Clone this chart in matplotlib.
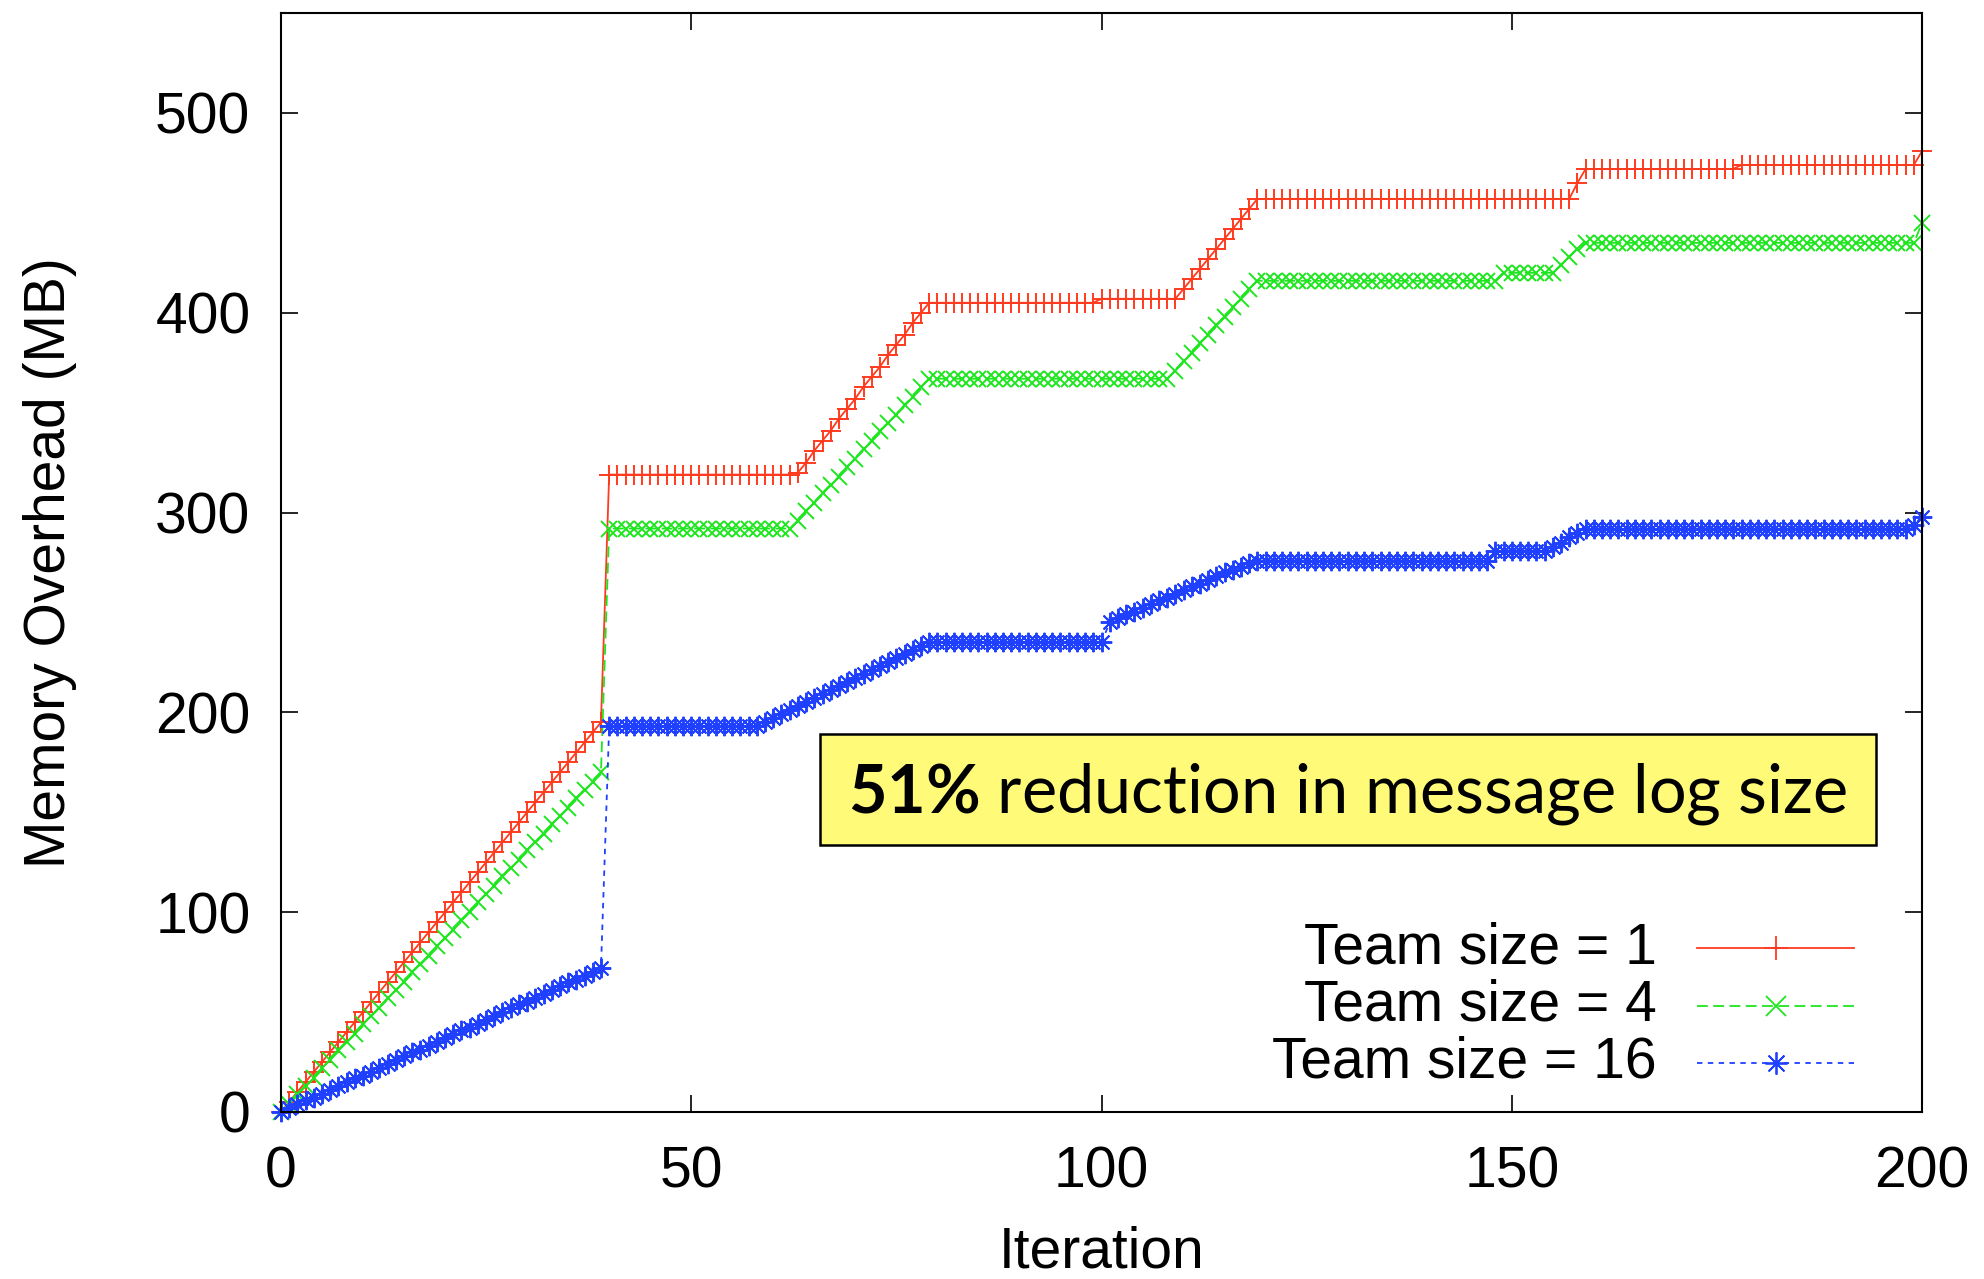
import numpy as np
import matplotlib
matplotlib.use("Agg")
import matplotlib.pyplot as plt
from matplotlib.patches import Rectangle

plt.rcParams['font.family'] = ['Liberation Sans', 'DejaVu Sans']
plt.rcParams['mathtext.fontset'] = 'custom'
plt.rcParams['mathtext.rm'] = 'Lato'
plt.rcParams['mathtext.bf'] = 'Lato:bold'

# memory overhead (MB) per iteration
team1 = ([0, 5, 10, 15, 20, 25, 30, 35, 40, 45, 50, 55, 60, 65, 70, 75, 80, 85, 90, 95,
          100, 105, 110, 115, 120, 125, 130, 135, 140, 145, 150, 155, 160, 165, 170, 175,
          180, 185, 190, 195]
         + [319] * 23 + [320]
         + [325, 331, 336, 341, 347, 352, 357, 363, 368, 373, 379, 384, 389, 395, 400, 405]
         + [405] * 20 + [407] * 10
         + [412, 417, 422, 427, 432, 437, 442, 447, 452, 457]
         + [457] * 38 + [465, 472]
         + [472] * 18 + [474] * 22 + [481])

team4 = ([0, 4, 9, 13, 17, 22, 26, 31, 35, 39, 44, 48, 52, 57, 61, 65, 70, 74, 78, 83,
          87, 91, 96, 100, 105, 109, 113, 118, 122, 126, 131, 135, 139, 144, 148, 152,
          157, 161, 165, 170]
         + [292] * 23
         + [296, 301, 305, 310, 314, 318, 323, 327, 332, 336, 341, 345, 349, 354, 358, 363, 367]
         + [367] * 29
         + [371, 376, 380, 385, 389, 394, 398, 403, 407, 412, 416]
         + [416] * 29 + [420] * 7 + [424, 428, 432]
         + [435] * 41 + [445])

team16 = ([0, 2, 4, 6, 7, 9, 11, 13, 15, 17, 18, 20, 22, 24, 26, 28, 30, 31, 33, 35,
           37, 39, 41, 42, 44, 46, 48, 50, 52, 54, 55, 57, 59, 61, 63, 65, 66, 68, 70, 72]
          + [193] * 19
          + [195, 197, 199, 201, 203, 205, 207, 209, 211, 213, 215, 217, 219, 221, 223,
             225, 227, 229, 231, 233, 235]
          + [235] * 21 + [245]
          + [247, 249, 250, 252, 254, 256, 257, 259, 261, 263, 264, 266, 268, 270, 271,
             273, 275, 276]
          + [276] * 28 + [281] * 7 + [283, 285, 288, 290]
          + [292] * 40 + [294, 298])

labels = ["Team size = 1", "Team size = 4", "Team size = 16"]
colors = ["#ff3b1f", "#1ee61e", "#1f40ff"]

fig = plt.figure(figsize=(19.84, 12.79), dpi=100)
ax = fig.add_axes([0.1416, 0.1306, 0.8272, 0.8592])

asterisk = (8, 2, 0)
styles = [dict(ls='-', marker='+', ms=15),
          dict(ls=(0, (6, 3)), marker='x', ms=12),
          dict(ls=(0, (3, 3)), marker=asterisk, ms=14)]

series = [team1, team4, team16]
for ys, c, st in zip(series, colors, styles):
    xs = np.arange(len(ys))
    ax.plot(xs, ys, color=c, lw=1.3, mew=1.4, clip_on=False, **st)

ax.set_xlim(0, 200)
ax.set_ylim(0, 550)
ax.set_xticks([0, 50, 100, 150, 200])
ax.set_yticks([0, 100, 200, 300, 400, 500])
ax.tick_params(direction='in', length=12, width=1.2, labelsize=41,
               top=True, right=True)
ax.tick_params(axis='x', pad=24)
ax.tick_params(axis='y', pad=22)
for s in ax.spines.values():
    s.set_linewidth(1.5)

ax.set_xlabel("Iteration", fontsize=41, labelpad=19)
ax.set_ylabel("Memory Overhead (MB)", fontsize=41, labelpad=56)

# legend: text on the left, sample on the right
rows_y = [0.1492, 0.0965, 0.0446]
for lab, c, st, yy in zip(labels, colors, styles, rows_y):
    ax.text(0.8385, yy, lab, transform=ax.transAxes, ha='right', va='center', fontsize=41)
    ax.plot([0.863, 0.9586], [yy, yy], transform=ax.transAxes, color=c, lw=1.3,
            ls=st['ls'], clip_on=False)
    ax.plot([0.911], [yy], transform=ax.transAxes, color=c, marker=st['marker'],
            ms=st['ms'] + 2, mew=1.3, ls='none', clip_on=False)

# callout box
ax.add_patch(Rectangle((0.3285, 0.2430), 0.6435, 0.101, transform=ax.transAxes,
                       facecolor='#fffa78', edgecolor='black', lw=1.8, zorder=5))
ax.text(0.650, 0.2895, r"$\mathbf{51\%}$ reduction in message log size",
        transform=ax.transAxes, ha='center', va='center', fontsize=48,
        family='Lato', zorder=6)

fig.savefig("out.png", dpi=100)
